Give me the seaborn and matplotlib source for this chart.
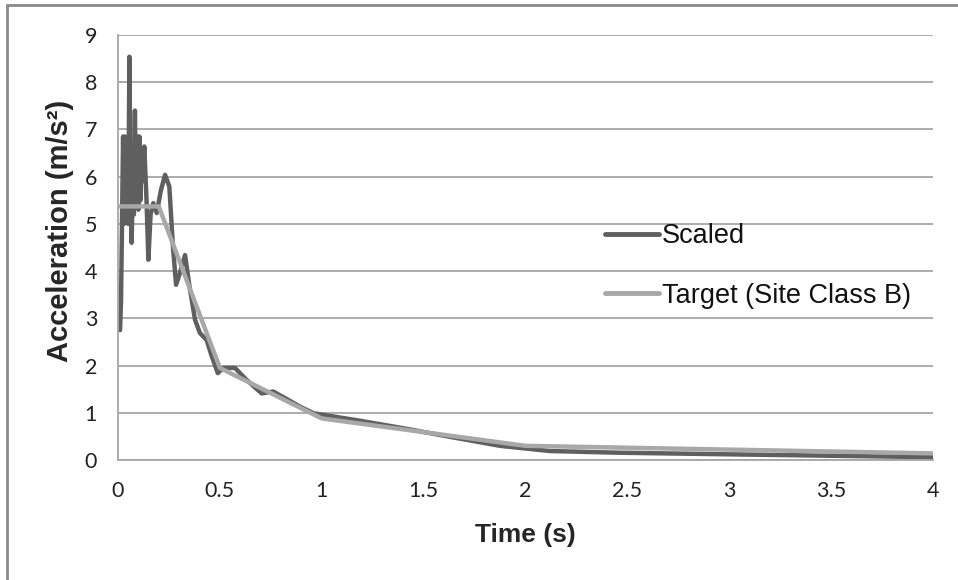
import matplotlib
matplotlib.use("Agg")
import matplotlib.pyplot as plt
from matplotlib.lines import Line2D
import seaborn as sns
import pandas as pd

# ---- data ----
scaled_t = [0.01, 0.015, 0.02, 0.025, 0.03, 0.035, 0.04, 0.045, 0.05, 0.056,
            0.062, 0.067, 0.073, 0.078, 0.083, 0.088, 0.094, 0.10, 0.105, 0.11,
            0.115, 0.12, 0.129, 0.14, 0.149, 0.16, 0.173, 0.19, 0.21, 0.231,
            0.252, 0.27, 0.285, 0.304, 0.329, 0.35, 0.378, 0.402, 0.435, 0.46,
            0.49, 0.516, 0.574, 0.63, 0.705, 0.762, 0.82, 0.893, 0.96, 1.06,
            1.19, 1.43, 1.63, 1.875, 2.12, 2.45, 3.0, 3.5, 4.0]
scaled_a = [2.75, 3.4, 5.15, 6.85, 5.0, 6.85, 5.2, 6.6, 5.0, 8.54,
            5.3, 4.6, 6.0, 5.2, 7.4, 5.5, 6.85, 5.3, 6.85, 5.5,
            6.6, 5.9, 6.64, 5.5, 4.24, 5.2, 5.44, 5.23, 5.7, 6.04,
            5.79, 4.5, 3.71, 3.96, 4.34, 3.7, 2.97, 2.69, 2.54, 2.2,
            1.84, 1.95, 1.95, 1.7, 1.41, 1.45, 1.31, 1.13, 0.99, 0.92,
            0.83, 0.65, 0.49, 0.30, 0.19, 0.155, 0.12, 0.09, 0.06]
target_t = [0.01, 0.2, 0.5, 1.0, 2.0, 4.0]
target_a = [5.37, 5.37, 1.95, 0.88, 0.30, 0.14]
x_ticks = [0, 0.5, 1, 1.5, 2, 2.5, 3, 3.5, 4]
x_tick_labels = ["0", "0.5", "1", "1.5", "2", "2.5", "3", "3.5", "4"]
y_ticks = list(range(0, 10))

df = pd.concat([
    pd.DataFrame({"t": scaled_t, "a": scaled_a, "series": "Scaled"}),
    pd.DataFrame({"t": target_t, "a": target_a, "series": "Target (Site Class B)"}),
], ignore_index=True)

sns.set_theme(style="white")
plt.rcParams["font.family"] = ["Liberation Sans", "DejaVu Sans"]

fig = plt.figure(figsize=(9.58, 5.80), dpi=100)
ax = fig.add_axes([118 / 958, 1 - 460 / 580, (933 - 118) / 958, (460 - 35) / 580])

sns.lineplot(data=df, x="t", y="a", hue="series", sort=False,
             palette={"Scaled": "#5f5f5f", "Target (Site Class B)": "#a8a8a8"},
             linewidth=3.2, ax=ax, estimator=None)

ax.set_xlim(0, 4)
ax.set_ylim(0, 9)
ax.set_xticks(x_ticks)
ax.set_xticklabels(x_tick_labels)
ax.set_yticks(y_ticks)
for lab in ax.get_xticklabels() + ax.get_yticklabels():
    lab.set_fontfamily(["Lato", "DejaVu Sans"])
    lab.set_fontsize(15.5)
    lab.set_color("#222222")
ax.tick_params(axis="both", length=0)
ax.tick_params(axis="x", pad=15)
ax.tick_params(axis="y", pad=15)

ax.yaxis.grid(True, color="#a6a6a6", linewidth=1.3)
ax.xaxis.grid(False)
ax.set_axisbelow(True)
for s in ["top", "right"]:
    ax.spines[s].set_visible(False)
ax.spines["left"].set_color("#a6a6a6")
ax.spines["left"].set_linewidth(1.3)
ax.spines["bottom"].set_color("#a6a6a6")
ax.spines["bottom"].set_linewidth(1.3)

ax.set_xlabel("Time (s)", fontsize=19, fontweight="bold")
ax.set_ylabel("Acceleration (m/s²)", fontsize=21, fontweight="bold")
ax.xaxis.set_label_coords(0.5, -(535 - 460) / 425)
ax.yaxis.set_label_coords((60 - 118) / 815, 1 - (231 - 35) / 425)
ax.xaxis.label.set_va("center")
ax.yaxis.label.set_va("center")
ax.yaxis.label.set_ha("center")

leg = ax.legend(loc="center left",
                bbox_to_anchor=((605 - 118) / 815, 1 - (266 - 35) / 425),
                frameon=False, fontsize=19.5, handlelength=2.0,
                handletextpad=0.1, labelspacing=1.25, borderpad=0,
                borderaxespad=0)
for line in leg.get_lines():
    line.set_linewidth(3.5)
for txt in leg.get_texts():
    txt.set_color("#111111")

# outer frame (top and left edges visible)
fig.add_artist(Line2D([7 / 958, 7 / 958], [0, 1 - 5 / 580], color="#8a8a8a",
                      linewidth=2, transform=fig.transFigure))
fig.add_artist(Line2D([7 / 958, 1], [1 - 5 / 580, 1 - 5 / 580], color="#8a8a8a",
                      linewidth=2, transform=fig.transFigure))

fig.savefig("out.png", dpi=100)
